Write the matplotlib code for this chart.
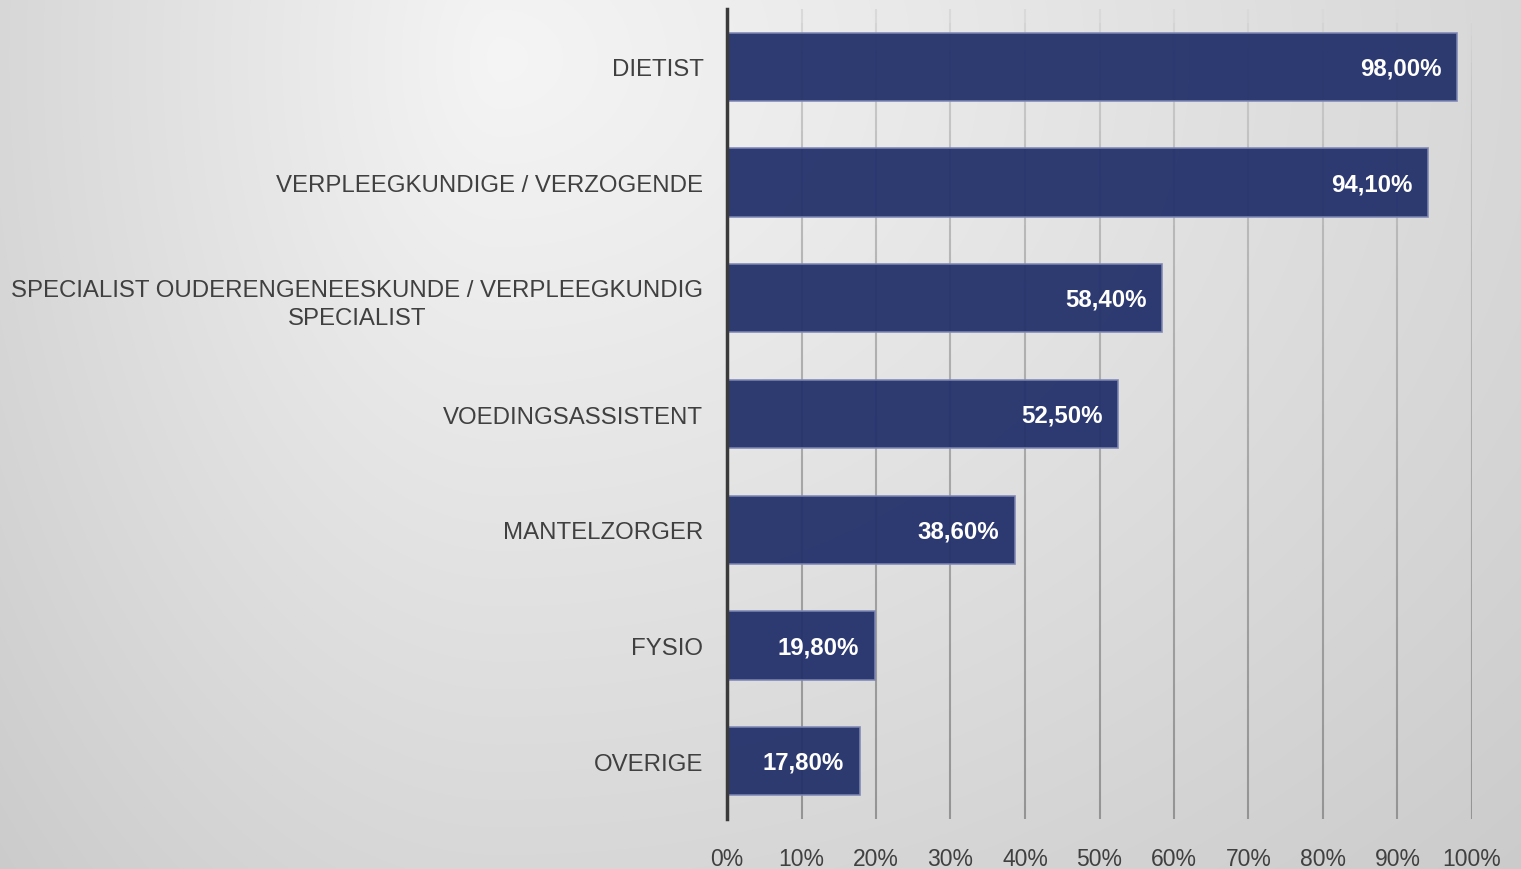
import numpy as np
import matplotlib
matplotlib.use("Agg")
import matplotlib.pyplot as plt
from matplotlib.collections import LineCollection

categories = ["DIETIST", "VERPLEEGKUNDIGE / VERZOGENDE",
              "SPECIALIST OUDERENGENEESKUNDE / VERPLEEGKUNDIG\nSPECIALIST",
              "VOEDINGSASSISTENT", "MANTELZORGER", "FYSIO", "OVERIGE"]
values = [98.0, 94.1, 58.4, 52.5, 38.6, 19.8, 17.8]
value_labels = ["98,00%", "94,10%", "58,40%", "52,50%", "38,60%", "19,80%", "17,80%"]
xticks = [0, 10, 20, 30, 40, 50, 60, 70, 80, 90, 100]

W, H = 1521, 870
fig = plt.figure(figsize=(W / 100, H / 100), dpi=100)

# soft radial background gradient
bg = fig.add_axes([0, 0, 1, 1], zorder=-10)
yy, xx = np.mgrid[0:H, 0:W].astype(float)
cx, cy = 500.0, 60.0
dxn = np.where(xx < cx, (xx - cx) / 500.0, (xx - cx) / 1020.0)
dyn = (yy - cy) / 810.0
r = np.sqrt(dxn ** 2 + dyn ** 2)
g = np.clip(0.96 - 0.115 * r, 0, 1)
bg.imshow(np.dstack([g, g, g]), aspect="auto", extent=[0, 1, 0, 1], origin="upper")
bg.axis("off")

ax = fig.add_axes([727 / W, 1 - 820 / H, (1472 - 727) / W, 810 / H])
ax.patch.set_alpha(0)
y = np.arange(len(categories))
ax.barh(y, values, height=0.59, color="#22306a", alpha=0.94,
        edgecolor="#7d86b3", linewidth=1.2, zorder=3)
ax.set_ylim(len(categories) - 0.5, -0.5)
ax.set_xlim(0, 100)

# vertical gridlines with a top-to-bottom shade (lighter at top)
trans = ax.get_xaxis_transform()
nseg = 60
fr = np.linspace(0, 1, nseg + 1)
for t in xticks[1:]:
    segs = [[(t, 1 - fr[i]), (t, 1 - fr[i + 1])] for i in range(nseg)]
    shade = 0.88 - 0.30 * np.sqrt((fr[:-1] + fr[1:]) / 2)
    cols = [(s, s, s) for s in shade]
    lc = LineCollection(segs, colors=cols, linewidths=1.5, transform=trans, zorder=1)
    ax.add_collection(lc)

ax.set_xticks(xticks)
ax.set_xticklabels([f"{t}%" for t in xticks], family=["Liberation Sans", "DejaVu Sans"],
                   fontsize=16.5, color="#404040")
ax.tick_params(axis="x", length=0, pad=20)
ax.tick_params(axis="y", length=0, pad=17)
ax.set_yticks(y)
ax.set_yticklabels(categories, family=["Liberation Sans", "DejaVu Sans"], fontsize=17.3,
                   color="#404040", linespacing=1.38)
for lab in ax.get_yticklabels():
    lab.set_horizontalalignment("right")
    lab.set_multialignment("center")
for s in ["top", "right", "bottom"]:
    ax.spines[s].set_visible(False)
ax.spines["left"].set_color("#3a3a3a")
ax.spines["left"].set_linewidth(2.5)
ax.spines["left"].set_zorder(4)

for yi, v, lab in zip(y, values, value_labels):
    ax.text(v - 2.1, yi + 0.01, lab, ha="right", va="center", color="white",
            fontsize=17.3, fontweight="bold", family=["Liberation Sans", "DejaVu Sans"], zorder=5)

fig.savefig("out.png", dpi=100)
